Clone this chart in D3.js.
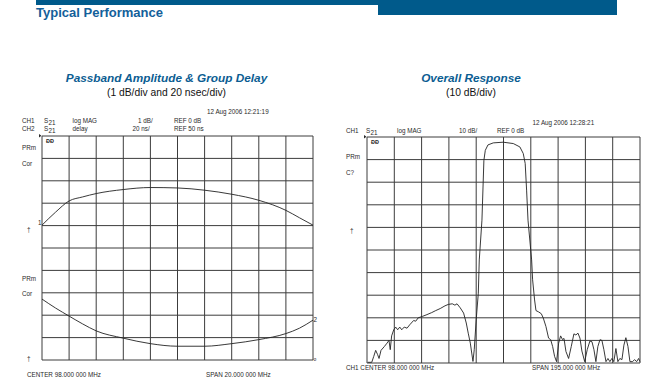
<!DOCTYPE html>
<html><head><meta charset="utf-8">
<script src="https://cdn.jsdelivr.net/npm/d3@7"></script>
<style>
html,body{margin:0;padding:0;background:#fff;}
svg{display:block;font-family:"Liberation Sans",Arial,sans-serif;}
</style></head><body>
<svg id="c" width="650" height="391"></svg>
<script>
// ---- data ----
const ampFreq  = [88, 89, 90, 91, 92, 94, 96, 98, 100, 102, 104, 106, 107, 108];      // MHz
const ampDb    = [-3.98, -3.40, -2.90, -2.72, -2.57, -2.39, -2.30, -2.32, -2.42, -2.60, -2.87, -3.32, -3.65, -3.98];
const delayFreq = [88, 89, 90, 91, 92, 94, 96, 98, 100, 102, 104, 106, 107, 108];
const delayNs   = [104.4, 96.4, 89.2, 82.2, 76.0, 69.5, 64.6, 62.3, 62.3, 64.6, 68.2, 73.6, 78.4, 85.6];

const respFreq = [1.0,3.9,5.3,6.7,8.1,9.1,10.5,12.9,14.8,16.2,17.1,18.1,19.6,21.0,22.4,23.9,25.3,27.1,29.1,31.0,33.8,35.3,37.1,40.0,43.3,46.7,49.6,52.8,56.2,58.5,61.4,63.3,64.8,67.1,69.5,71.4,72.8,74.3,75.3,76.2,77.1,78.5,80.0,80.7,82.6,84.0,85.0,86.9,90.7,97.8,105.0,109.7,112.1,113.5,114.5,115.5,118.1,118.8,120.2,121.2,123.1,125.0,126.4,128.3,130.2,131.7,133.1,134.5,135.9,137.4,138.8,140.2,141.2,142.6,144.5,146.4,148.3,149.7,151.2,152.6,154.0,156.0,157.8,159.7,161.2,162.6,164.0,165.4,166.9,168.3,169.7,171.2,172.6,174.0,175.4,176.8,178.3,179.7,181.1,182.6,184.0,185.4,186.9,188.3,190.2,191.6,193.1,194.5,195.4];
const respDb   = [-99.7,-99.7,-97.1,-94.4,-96.3,-98.0,-94.4,-92.7,-91.2,-90.0,-94.1,-88.0,-85.3,-84.1,-85.3,-84.1,-85.3,-84.1,-84.6,-83.1,-81.2,-81.5,-80.0,-79.4,-78.6,-77.7,-76.8,-75.9,-74.7,-74.1,-73.8,-74.4,-73.8,-75.6,-77.9,-82.3,-86.8,-91.2,-95.6,-99.3,-94.1,-80.9,-69.1,-54.4,-36.8,-10.3,-5.9,-3.5,-2.6,-2.3,-2.9,-4.4,-7.3,-11.7,-23.5,-36.8,-54.4,-63.2,-72.1,-76.8,-77.4,-78.2,-80.1,-83.8,-89.0,-89.7,-92.7,-97.1,-99.4,-91.2,-88.0,-89.7,-89.1,-94.9,-98.0,-92.7,-87.1,-87.6,-86.8,-89.0,-94.7,-99.4,-94.1,-90.3,-90.6,-94.1,-99.4,-92.7,-89.7,-90.0,-94.1,-99.4,-98.0,-99.4,-98.0,-99.4,-93.6,-99.4,-98.0,-98.5,-92.1,-88.8,-92.7,-99.4,-99.4,-98.5,-99.4,-98.0,-99.4];

const pageTitle = "Typical Performance";
const leftTitle = "Passband Amplitude & Group Delay";
const leftSub = "(1 dB/div and 20 nsec/div)";
const rightTitle = "Overall Response";
const rightSub = "(10 dB/div)";

// ---- drawing ----
const svg = d3.select("#c");
const blue = "#0b5d92";
const ink = "#2a2a2a";

// header
svg.append("rect").attr("x",36).attr("y",0).attr("width",581).attr("height",5).attr("fill","#005a8b");
svg.append("rect").attr("x",378).attr("y",0).attr("width",239).attr("height",15).attr("fill","#005a8b");
svg.append("text").attr("x",36).attr("y",17).attr("font-size",12.5).attr("font-weight","bold")
  .attr("fill","#13609a").attr("textLength",127).attr("lengthAdjust","spacingAndGlyphs").text(pageTitle);

// titles
function titles(cx, t, s){
  svg.append("text").attr("x",cx).attr("y",82).attr("text-anchor","middle").attr("font-size",11.8)
    .attr("font-weight","bold").attr("font-style","italic").attr("fill",blue).text(t);
  svg.append("text").attr("x",cx).attr("y",95.5).attr("text-anchor","middle").attr("font-size",10.3)
    .attr("fill","#111").text(s);
}
titles(166.5, leftTitle, leftSub);
titles(471, rightTitle, rightSub);

function txt(x,y,s,size){
  return svg.append("text").attr("x",x).attr("y",y).attr("font-size",size||6.3).attr("fill",ink).text(s);
}
function grid(xs, ys, xTicks, yTicks){
  const g = svg.append("g").attr("stroke","#3c3c3c").attr("stroke-width",1).attr("fill","none");
  xTicks.forEach(t=>g.append("line").attr("x1",xs(t)).attr("x2",xs(t)).attr("y1",ys.range()[0]).attr("y2",ys.range()[1]));
  yTicks.forEach(t=>g.append("line").attr("y1",ys(t)).attr("y2",ys(t)).attr("x1",xs.range()[0]).attr("x2",xs.range()[1]));
}
function trace(xs, ys, fx, fy, curve){
  const line = d3.line().x(d=>xs(d[0])).y(d=>ys(d[1])).curve(curve);
  svg.append("path").datum(fx.map((f,i)=>[f,fy[i]])).attr("d",line)
    .attr("fill","none").attr("stroke","#222").attr("stroke-width",0.9);
}
function icons(x, yTop){
  svg.append("path").attr("d",`M${x-3},${yTop-2}l2.5,1.8l-2.5,1.8z`).attr("fill",ink);
  svg.append("text").attr("x",x+4).attr("y",yTop+7).attr("font-size",5.5).attr("font-weight","bold")
    .attr("fill",ink).text("ÐÐ");
}

// ---- left chart ----
const xL = d3.scaleLinear().domain([88,108]).range([42,313]);
const yAmp = d3.scaleLinear().domain([-10,0]).range([360,136]);
const yDel = d3.scaleLinear().domain([50,250]).range([360,136]);
grid(xL, yAmp, d3.range(88,108.01,2), d3.range(-10,0.01,1));
trace(xL, yAmp, ampFreq, ampDb, d3.curveMonotoneX);
trace(xL, yDel, delayFreq, delayNs, d3.curveMonotoneX);

txt(207,114,"12 Aug 2006  12:21:19");
txt(22,123,"CH1"); txt(22,131,"CH2");
txt(44,123,"S"); txt(48.5,125,"21"); txt(44,131,"S"); txt(48.5,133,"21");
txt(72.5,123,"log MAG"); txt(72.5,131,"delay");
txt(138,123,"1 dB/"); txt(132.5,131,"20 ns/");
txt(174,123,"REF 0 dB"); txt(174,131,"REF 50 ns");
icons(42,136);
txt(22,150,"PRm"); txt(22,166,"Cor");
txt(27,232,"†"); txt(38,225,"1");
txt(22,281,"PRm"); txt(22,296,"Cor");
txt(27,361,"†"); txt(313.5,322,"2"); txt(313.5,361,"o",5);
txt(27,377,"CENTER  98.000 000 MHz");
txt(206,377,"SPAN  20.000 000 MHz");

// ---- right chart ----
const xR = d3.scaleLinear().domain([0.5,195.5]).range([367,640]);
const yR = d3.scaleLinear().domain([-100,0]).range([363,137]);
grid(xR, yR, d3.range(0.5,195.51,19.5), d3.range(-100,0.01,10));
trace(xR, yR, respFreq, respDb, d3.curveLinear);

txt(532.5,125,"12 Aug 2006  12:28:21");
txt(346,133,"CH1"); txt(366,133,"S"); txt(370.5,135,"21");
txt(397,133,"log MAG"); txt(459,133,"10 dB/"); txt(497,133,"REF 0 dB");
icons(367,137);
txt(346,159,"PRm"); txt(346,175,"C?");
txt(350,233,"†");
txt(346,370,"CH1 CENTER  98.000 000 MHz");
txt(532,370,"SPAN  195.000 000 MHz");
</script>
</body></html>
